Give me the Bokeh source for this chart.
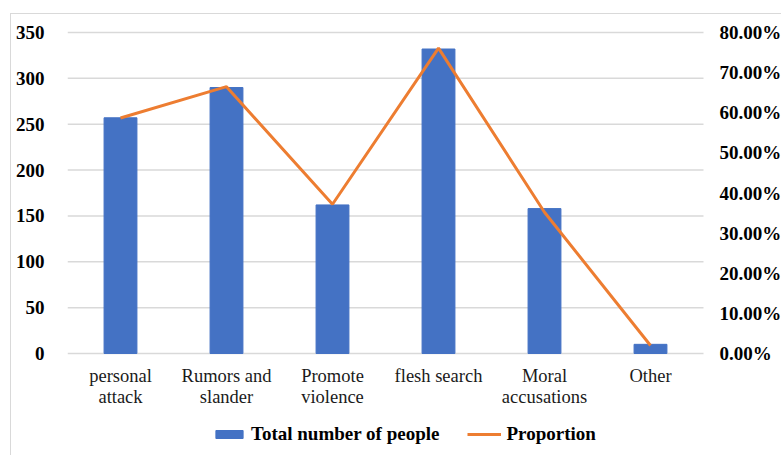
from bokeh.plotting import figure
from bokeh.models import Range1d, FixedTicker, Legend, LegendItem
from bokeh.core.properties import value
from bokeh.embed import file_html
from bokeh.resources import INLINE

# --- data -------------------------------------------------------------
categories = ["personal attack", "Rumors and slander", "Promote violence",
              "flesh search", "Moral accusations", "Other"]
category_labels = ["personal\nattack", "Rumors and\nslander", "Promote\nviolence",
                   "flesh search", "Moral\naccusations", "Other"]
total_people = [257, 290, 162, 332, 158, 10]
proportion = [0.587, 0.665, 0.372, 0.761, 0.352, 0.020]

count_ticks = [0, 50, 100, 150, 200, 250, 300, 350]
pct_ticks = [0.0, 0.1, 0.2, 0.3, 0.4, 0.5, 0.6, 0.7, 0.8]

SERIF = "'Liberation Serif'"
BLUE = "#4472C4"
ORANGE = "#ED7D31"
GRID = "#D9D9D9"

# category slots sit at 0.5, 1.5, ... on a numeric x scale
n = len(categories)
xpos = [i + 0.5 for i in range(n)]

# the plotting frame fills the whole figure except the left axis, so that
# category names, the percentage scale and the legend are drawn inside it
FIG_W, FIG_H = 771, 442
LEFT = 56
PAD_TOP = 18                      # room above the 350 / 80% line
SLOT_PX = 106                     # horizontal size of one category slot
PLOT_PX = 321                     # height of the 0..350 span
PX_PER_COUNT = PLOT_PX / 350
x_end = (FIG_W - LEFT) / SLOT_PX
count_max = 350 + PAD_TOP / PX_PER_COUNT
count_min = -(FIG_H - PAD_TOP - PLOT_PX) / PX_PER_COUNT
pct_max = count_max * 0.8 / 350
pct_min = count_min * 0.8 / 350

p = figure(width=FIG_W, height=FIG_H,
           output_backend="svg", toolbar_location=None,
           min_border_left=LEFT, min_border_right=0,
           min_border_top=0, min_border_bottom=0,
           outline_line_color=None, margin=(13, 0, 0, 10),
           styles={"border-left": "1px solid #D9D9D9",
                   "border-top": "1px solid #D9D9D9"})
p.x_range = Range1d(0, x_end)
p.y_range = Range1d(count_min, count_max)
p.extra_y_ranges = {"pct": Range1d(pct_min, pct_max)}

# horizontal grid lines spanning the category slots only
p.xgrid.visible = False
p.ygrid.visible = False
p.segment(x0=0, x1=n, y0=count_ticks, y1=count_ticks,
          line_color=GRID, line_width=1.5)

bars = p.vbar(x=xpos, top=total_people, width=0.31,
              fill_color=BLUE, line_color=BLUE)
line = p.line(x=xpos, y=proportion, y_range_name="pct",
              line_color=ORANGE, line_width=3)

# left axis
ya = p.yaxis[0]
ya.ticker = FixedTicker(ticks=count_ticks)
ya.axis_line_color = None
ya.major_tick_line_color = None
ya.minor_tick_line_color = None
ya.major_label_standoff = 17
ya.major_label_text_font = SERIF
ya.major_label_text_font_size = "19px"
ya.major_label_text_font_style = "bold"
ya.major_label_text_color = "#000000"

p.xaxis.visible = False

# category names under the zero line
p.text(x=xpos, y=[0] * n, text=category_labels,
       y_offset=12, text_align="center", text_baseline="top",
       text_font=value(SERIF), text_font_size="18.5px",
       text_color="#1a1a1a", text_line_height=1.05)

# right-hand percentage scale on the secondary range
p.text(x=[n] * len(pct_ticks), y=pct_ticks, y_range_name="pct",
       text=[f"{t * 100:.2f}%" for t in pct_ticks],
       x_offset=16, text_align="left", text_baseline="middle",
       text_font=value(SERIF), text_font_size="19px",
       text_font_style="bold", text_color="#000000")

legend = Legend(items=[LegendItem(label="Total number of people", renderers=[bars]),
                       LegendItem(label="Proportion", renderers=[line])],
                orientation="horizontal", location=(145, 11),
                label_text_font=SERIF, label_text_font_size="19px",
                label_text_font_style="bold", label_text_color="#000000",
                glyph_width=34, glyph_height=10, label_height=20,
                label_standoff=5, spacing=28, padding=0, margin=0,
                border_line_color=None, background_fill_alpha=0)
p.add_layout(legend, "center")

open("out.html", "w").write(file_html(p, INLINE))
